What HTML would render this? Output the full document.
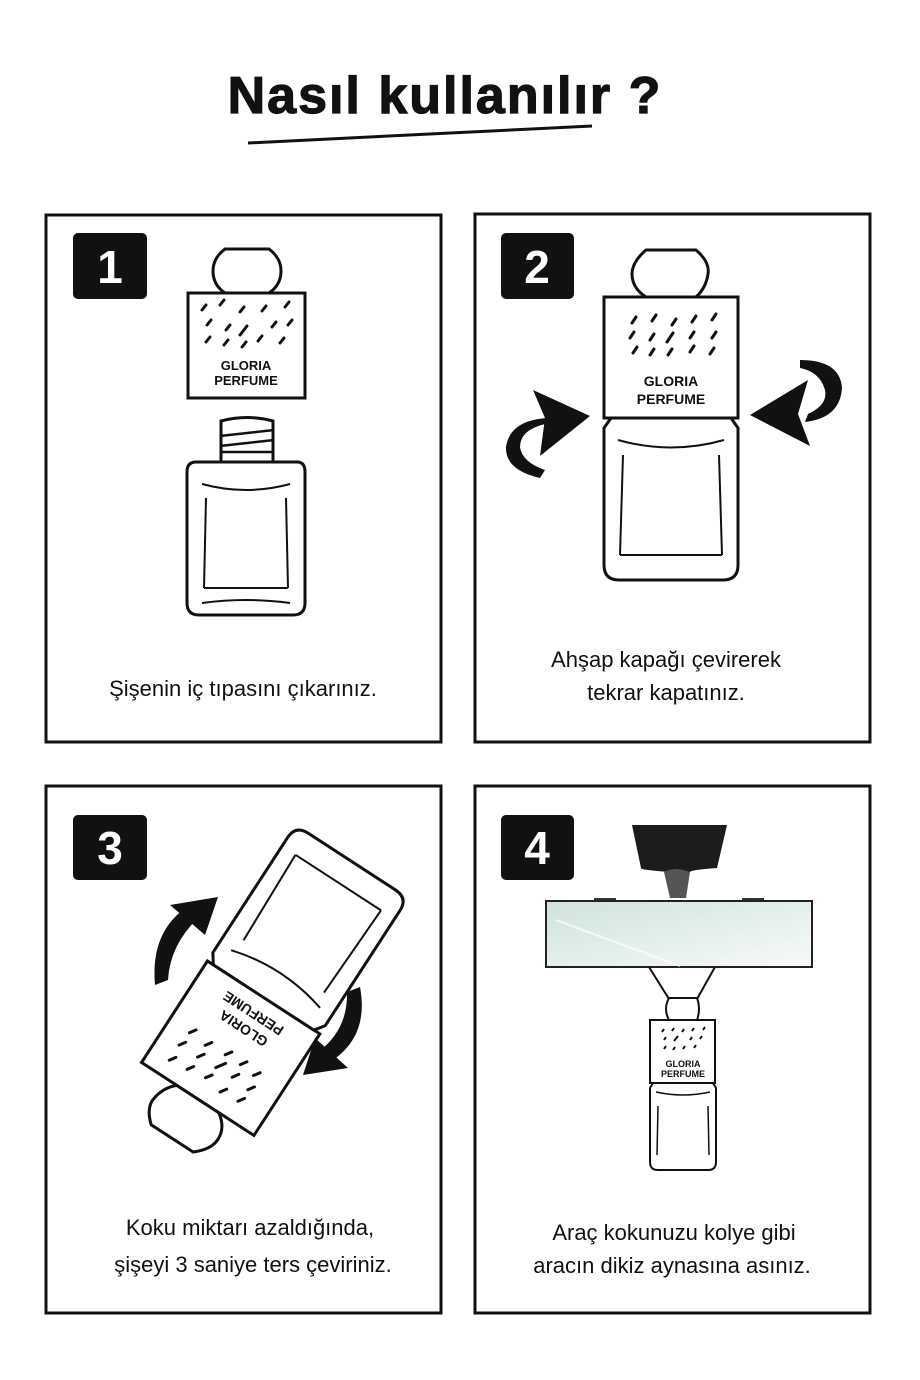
<!DOCTYPE html>
<html><head><meta charset="utf-8"><style>
html,body{margin:0;padding:0;background:#fff;}
svg{display:block;}
.t{font-family:"Liberation Sans",sans-serif;}
</style></head><body>
<svg width="920" height="1380" viewBox="0 0 920 1380" xmlns="http://www.w3.org/2000/svg">
<defs>
<linearGradient id="mg" x1="0" y1="0" x2="1" y2="1">
<stop offset="0" stop-color="#cfe3dc"/><stop offset="0.5" stop-color="#e3efea"/><stop offset="1" stop-color="#f7faf9"/>
</linearGradient>
<g id="b2" fill="#fff" stroke="#111" stroke-width="3">
<path d="M646,250 L696,250 Q710,262 708,274 Q706,288 696,297 L646,297 Q632,288 632,274 Q632,262 646,250 Z"/>
<rect x="604" y="297" width="134" height="121"/>
<path d="M611,418 L731,418 L738,428 L738,565 Q738,580 723,580 L619,580 Q604,580 604,565 L604,428 Z"/>
<path d="M618,440 Q671,455 724,440" fill="none" stroke-width="2"/>
<path d="M623,455 L620,555 M719,455 L722,555 M620,555 L722,555" fill="none" stroke-width="2"/>
<g stroke-width="3" stroke-linecap="round">
<path d="M632,323 l4,-6 M652,321 l4,-6 M672,325 l4,-6 M692,322 l4,-6 M712,320 l4,-6"/>
<path d="M630,338 l4,-6 M650,340 l4,-6 M667,342 l6,-9 M690,338 l4,-6 M712,338 l4,-6"/>
<path d="M633,353 l4,-6 M650,355 l4,-6 M668,355 l4,-6 M690,352 l4,-6 M710,354 l4,-6"/>
</g>
<text x="671" y="386" text-anchor="middle" class="t" font-size="14" font-weight="bold" fill="#111" stroke="none">GLORIA</text>
<text x="671" y="404" text-anchor="middle" class="t" font-size="14" font-weight="bold" fill="#111" stroke="none">PERFUME</text>
</g>
</defs>

<text x="445" y="113" text-anchor="middle" class="t" font-size="52" font-weight="bold" fill="#111" letter-spacing="2" stroke="#111" stroke-width="1.2">Nasıl kullanılır ?</text>
<path d="M248,143 L592,126" stroke="#111" stroke-width="3"/>

<g fill="none" stroke="#111" stroke-width="3">
<rect x="46" y="215" width="395" height="527"/>
<rect x="475" y="214" width="395" height="528"/>
<rect x="46" y="786" width="395" height="527"/>
<rect x="475" y="786" width="395" height="527"/>
</g>

<g fill="#111">
<rect x="73" y="233" width="74" height="66" rx="5"/>
<rect x="501" y="233" width="73" height="66" rx="5"/>
<rect x="73" y="815" width="74" height="65" rx="5"/>
<rect x="501" y="815" width="73" height="65" rx="5"/>
</g>
<g fill="#fff" class="t" font-size="46" font-weight="bold" text-anchor="middle">
<text x="110" y="283">1</text>
<text x="537" y="283">2</text>
<text x="110" y="864">3</text>
<text x="537" y="864">4</text>
</g>

<!-- Panel 1 -->
<g fill="#fff" stroke="#111" stroke-width="3">
<path d="M225,249 L269,249 Q281,258 281,271 Q281,285 269,293 L225,293 Q213,285 213,271 Q213,258 225,249 Z"/>
<rect x="188" y="293" width="117" height="105"/>
<path d="M221,421 Q247,414 273,421 L273,462 L221,462 Z"/>
<path d="M220,436 L274,430 M220,446 L274,440 M220,452 L274,452" fill="none" stroke-width="2.5"/>
<path d="M196,462 L297,462 Q305,462 305,472 L305,603 Q305,615 293,615 L199,615 Q187,615 187,603 L187,472 Q187,462 196,462 Z"/>
<path d="M202,484 Q246,496 290,484" fill="none" stroke-width="2"/>
<path d="M206,498 L204,588 M286,498 L288,588 M204,588 L288,588 M202,603 Q246,597 290,603" fill="none" stroke-width="2"/>
<g stroke-linecap="round">
<path d="M202,310 l4,-5 M220,305 l4,-5 M240,312 l4,-5 M262,311 l4,-5 M285,307 l4,-5"/>
<path d="M207,325 l4,-5 M226,330 l4,-5 M240,335 l7,-9 M272,327 l4,-5 M288,325 l4,-5"/>
<path d="M206,342 l4,-5 M224,345 l4,-5 M242,347 l4,-5 M258,341 l4,-5 M280,343 l4,-5"/>
</g>
<text x="246" y="370" text-anchor="middle" class="t" font-size="13" font-weight="bold" fill="#111" stroke="none">GLORIA</text>
<text x="246" y="385" text-anchor="middle" class="t" font-size="13" font-weight="bold" fill="#111" stroke="none">PERFUME</text>
</g>
<text x="243" y="696" text-anchor="middle" class="t" font-size="22" fill="#111">Şişenin iç tıpasını çıkarınız.</text>

<!-- Panel 2 -->
<use href="#b2"/>
<g fill="#111">
<path d="M540,478 Q505,470 506,447 Q510,420 548,418 L545,424 Q520,430 520,447 Q522,462 545,470 Z"/>
<path d="M590,416 L533,390 L545,418 L540,456 Z"/>
<path d="M800,360 Q840,360 842,388 Q840,418 805,422 L808,414 Q828,405 825,390 Q820,372 800,368 Z"/>
<path d="M750,415 L808,380 L798,414 L810,446 Z"/>
</g>
<text x="666" y="667" text-anchor="middle" class="t" font-size="22" fill="#111">Ahşap kapağı çevirerek</text>
<text x="666" y="700" text-anchor="middle" class="t" font-size="22" fill="#111">tekrar kapatınız.</text>

<!-- Panel 3 -->
<use href="#b2" transform="translate(262,1000) rotate(213) translate(-671,-415)"/>
<g fill="#111">
<path d="M155,985 Q150,930 190,905 L198,918 Q170,945 168,980 Z"/>
<path d="M218,897 L170,905 L205,935 Z"/>
<path d="M360,987 Q370,1040 325,1065 L318,1052 Q348,1030 347,992 Z"/>
<path d="M303,1075 L348,1068 L315,1038 Z"/>
</g>
<text x="250" y="1235" text-anchor="middle" class="t" font-size="22" fill="#111">Koku miktarı azaldığında,</text>
<text x="253" y="1272" text-anchor="middle" class="t" font-size="22" fill="#111">şişeyi 3 saniye ters çeviriniz.</text>

<!-- Panel 4 -->
<path d="M632,825 L727,825 L717,868 Q690,870 690,872 L670,872 Q640,870 641,868 Z" fill="#1c1c1c"/>
<path d="M664,872 Q674,866 690,872 L686,898 L670,898 Z" fill="#555"/>
<rect x="594" y="898" width="22" height="5" fill="#333"/>
<rect x="742" y="898" width="22" height="5" fill="#333"/>
<rect x="546" y="901" width="266" height="66" fill="url(#mg)" stroke="#222" stroke-width="2"/>
<path d="M556,920 L680,966" stroke="#fff" stroke-width="2" opacity="0.7"/>
<g fill="none" stroke="#111" stroke-width="2">
<path d="M649,967 L669,999 M715,967 L697,999"/>
<path d="M669,998 L697,998 Q701,1009 697,1020 L669,1020 Q663,1009 669,998 Z" fill="#fff"/>
<rect x="650" y="1020" width="65" height="63" fill="#fff"/>
<path d="M653,1083 L713,1083 L716,1088 L716,1162 Q716,1170 708,1170 L658,1170 Q650,1170 650,1162 L650,1088 Z" fill="#fff"/>
<path d="M656,1092 Q683,1098 710,1092 M658,1106 L657,1155 M708,1106 L709,1155" stroke-width="1.5"/>
<path d="M662,1032 l2,-3 M672,1031 l2,-3 M682,1032 l2,-3 M692,1031 l2,-3 M703,1030 l2,-3 M664,1040 l2,-3 M674,1041 l4,-5 M690,1040 l2,-3 M700,1039 l2,-3 M664,1049 l2,-3 M673,1050 l2,-3 M683,1049 l2,-3 M694,1048 l2,-3" stroke-width="2"/>
</g>
<text x="683" y="1067" text-anchor="middle" class="t" font-size="9" font-weight="bold" fill="#111">GLORIA</text>
<text x="683" y="1077" text-anchor="middle" class="t" font-size="9" font-weight="bold" fill="#111">PERFUME</text>
<text x="674" y="1240" text-anchor="middle" class="t" font-size="22" fill="#111">Araç kokunuzu kolye gibi</text>
<text x="672" y="1273" text-anchor="middle" class="t" font-size="22" fill="#111">aracın dikiz aynasına asınız.</text>
</svg>
</body></html>
